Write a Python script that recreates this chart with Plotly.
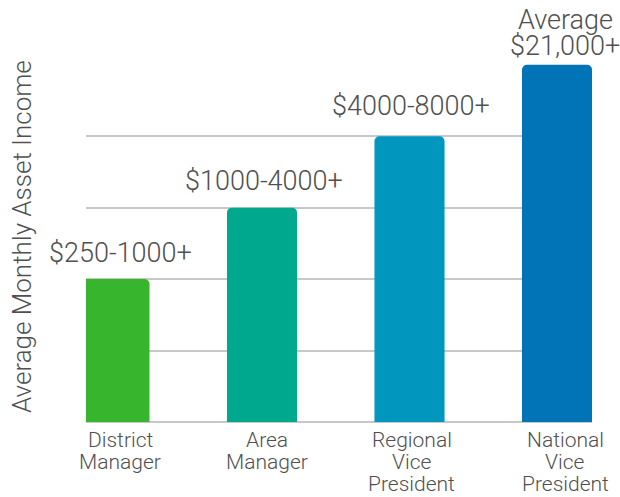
import plotly.graph_objects as go

categories = ["District<br>Manager", "Area<br>Manager", "Regional<br>Vice<br>President", "National<br>Vice<br>President"]
levels = [2, 3, 4, 5]
value_labels = ["$250-1000+", "$1000-4000+", "$4000-8000+", "Average<br>$21,000+"]
bar_colors = ["#36B52D", "#00A98E", "#0096BE", "#0074B7"]

xpos = list(range(len(categories)))
FONT = "Roboto"
TXT = "#505050"

fig = go.Figure()
fig.add_trace(go.Bar(
    x=xpos, y=levels, width=0.475,
    marker=dict(color=bar_colors, line=dict(width=0), cornerradius=5),
    hoverinfo="skip", cliponaxis=True,
))

annotations = []

# value labels above bars (lines placed separately for tight line spacing)
label_xshift = [6, 2, 1, 8]
label_yshift = [9, 10, 13, 2]
for i, lab in enumerate(value_labels):
    lines = lab.split("<br>")
    n = len(lines)
    for j, line in enumerate(lines):
        annotations.append(dict(
            x=xpos[i], y=levels[i], xref="x", yref="y",
            text=line, showarrow=False, yanchor="bottom", xanchor="center",
            xshift=label_xshift[i], yshift=label_yshift[i] + (n - 1 - j) * 26,
            borderpad=0,
            font=dict(family=FONT, size=27, color=TXT, weight=300),
        ))

# category labels under the axis
cat_xshift = [6, 5, 2, 8]
for i, cat in enumerate(categories):
    for j, line in enumerate(cat.split("<br>")):
        annotations.append(dict(
            x=xpos[i], y=0, xref="x", yref="paper",
            text=line, showarrow=False, yanchor="top", xanchor="center",
            xshift=cat_xshift[i], yshift=-5 - j * 22,
            borderpad=0,
            font=dict(family=FONT, size=21, color=TXT, weight=300),
        ))

annotations.append(dict(
    x=0, y=0.5, xref="paper", yref="paper", text="Average Monthly Asset Income",
    textangle=-90, showarrow=False, xanchor="center", yanchor="middle",
    xshift=-64, yshift=6,
    font=dict(family=FONT, size=26, color=TXT, weight=300),
))

fig.update_layout(
    width=620, height=497,
    margin=dict(l=86, r=28, t=64, b=75, autoexpand=False),
    paper_bgcolor="white", plot_bgcolor="white",
    showlegend=False,
    annotations=annotations,
    xaxis=dict(
        range=[-0.193, 3.237], showticklabels=False,
        showgrid=False, zeroline=False, showline=False, ticks="",
        automargin=False,
    ),
    yaxis=dict(
        range=[0, 5.01], dtick=1, showticklabels=False, ticks="",
        showgrid=True, gridcolor="#c8c8c8", gridwidth=2,
        zeroline=True, zerolinecolor="#c8c8c8", zerolinewidth=2,
        showline=False, automargin=False,
    ),
)

fig.write_html("out.html")
